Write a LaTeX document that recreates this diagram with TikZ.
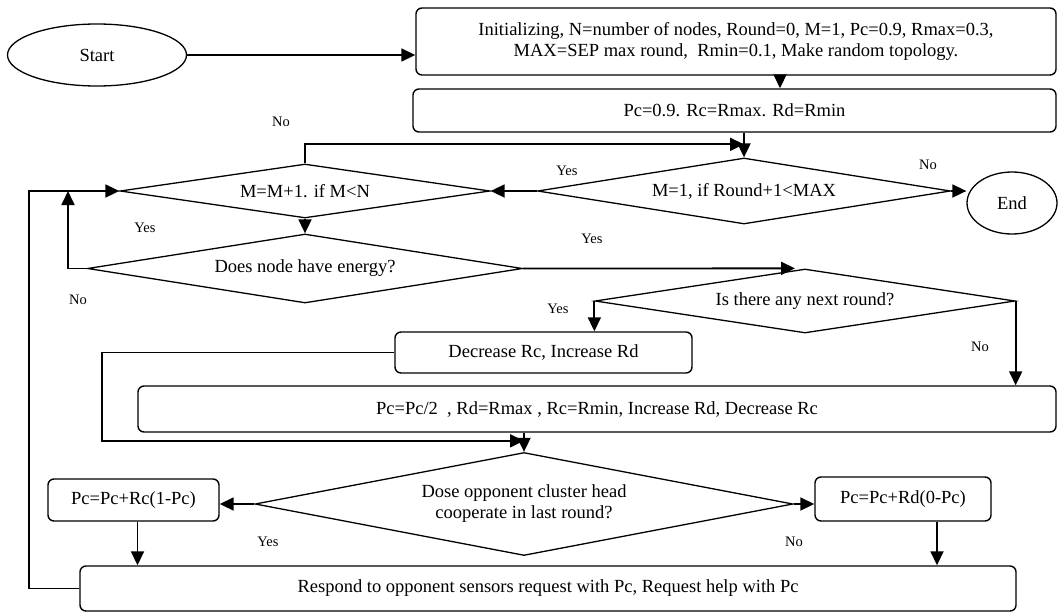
\documentclass[tikz,border=0pt]{standalone}
\usepackage{fontspec}
\setmainfont{Liberation Serif}
\usetikzlibrary{shapes.geometric,arrows.meta}

\begin{document}
\begin{tikzpicture}[x=1pt, y=-1pt,
    font=\fontsize{18.5}{21}\selectfont,
    proc/.style={draw, line width=1.4pt, rounded corners=6pt, inner sep=0pt, align=center},
    decision/.style={draw, line width=1.3pt, diamond, inner sep=0pt, align=center},
    term/.style={draw, line width=1.3pt, ellipse, inner sep=0pt},
    arr/.style={line width=1.8pt, -{Triangle[length=14pt,width=13pt]}},
    lbl/.style={font=\fontsize{14.5}{16}\selectfont}]
    \useasboundingbox (0,0) rectangle (1059,613);
    % terminals
    \node[term, minimum width=179pt, minimum height=62pt] (start) at (97,55) {Start};
    \node[term, minimum width=90pt, minimum height=62pt] (end) at (1012,203) {End};
    % process boxes
    \node[proc, minimum width=640pt, minimum height=67pt] (init-box) at (736,41.5)
    {Initializing, N=number of nodes, Round=0, M=1, Pc=0.9, Rmax=0.3,\\
     MAX=SEP max round,\ \ Rmin=0.1, Make random topology.};
    \node[proc, minimum width=643pt, minimum height=43pt] (pc-box) at (734.5,110.5)
    {Pc=0.9. Rc=Rmax. Rd=Rmin};
    \node[proc, minimum width=297pt, minimum height=41pt] (dec-box) at (543.5,352.5)
    {Decrease Rc, Increase Rd};
    \node[proc, minimum width=918pt, minimum height=46pt] (half-box) at (597,409)
    {Pc=Pc/2\ \ , Rd=Rmax , Rc=Rmin, Increase Rd, Decrease Rc};
    \node[proc, minimum width=171pt, minimum height=42pt] (rc-box) at (133.5,500)
    {Pc=Pc+Rc(1-Pc)};
    \node[proc, minimum width=176pt, minimum height=44pt] (rd-box) at (903,499)
    {Pc=Pc+Rd(0-Pc)};
    \node[proc, minimum width=936pt, minimum height=45pt] (resp-box) at (548,588.5)
    {Respond to opponent sensors request with Pc, Request help with Pc};
    % decisions
    \node[decision, aspect=7, minimum width=370pt, minimum height=54pt] (m-dec) at (305,191)
    {M=M+1. if M{<}N};
    \node[decision, aspect=6, minimum width=413pt, minimum height=66pt] (round-dec) at (744,191)
    {M=1, if Round+1{<}MAX};
    \node[decision, aspect=6.3, minimum width=435pt, minimum height=69pt] (energy-dec) at (305,268.5)
    {Does node have energy?};
    \node[decision, aspect=6.6, minimum width=420pt, minimum height=64pt] (next-dec) at (805,301)
    {Is there any next round?};
    \node[decision, aspect=5.2, minimum width=538pt, minimum height=103pt] (coop-dec) at (524,504)
    {Dose opponent cluster head\\cooperate in last round?};
    % junction points
    \coordinate (pc-in) at ([yshift=13pt]round-dec.north);
    \coordinate (m-in) at (68,191);
    \coordinate (coop-in) at ([yshift=11pt]coop-dec.north);
    % connectors
    \draw[arr] (start.east) -- (start.east -| init-box.west);
    \draw[arr] ([xshift=44pt]init-box.south) -- ([xshift=45.5pt]pc-box.north);
    \draw[arr] (pc-box.south -| round-dec.north) -- (round-dec.north);
    \draw[arr] (m-dec.north) |- (pc-in);
    \draw[arr] (round-dec.west) -- (m-dec.east);
    \draw[arr] (round-dec.east) -- (end.west |- round-dec.east);
    \draw[arr] (m-dec.south) -- (energy-dec.north);
    \draw[arr] (energy-dec.west) -| (m-in);
    \draw[arr] (energy-dec.east) -- ([xshift=-10pt]next-dec.north);
    \draw[arr] (next-dec.west) -- (next-dec.west |- dec-box.north);
    \draw[arr] (next-dec.east) -- (next-dec.east |- half-box.north);
    \draw[arr] (dec-box.west) -- (dec-box.west -| 102,0) |- (coop-in);
    \draw[arr] (half-box.south -| coop-dec.north) -- (coop-dec.north);
    \draw[arr] (coop-dec.west) -- (coop-dec.west -| rc-box.east);
    \draw[arr] (coop-dec.east) -- (coop-dec.east -| rd-box.west);
    \draw[arr] ([xshift=4pt]rc-box.south) -- ([xshift=4pt]rc-box.south |- resp-box.north);
    \draw[arr] ([xshift=34pt]rd-box.south) -- ([xshift=34pt]rd-box.south |- resp-box.north);
    \draw[arr] (resp-box.west) -- (resp-box.west -| 29,0) |- (m-dec.west);
    % yes / no labels
    \node[lbl] (no-m) at (281,122) {No};
    \node[lbl] (yes-round) at (567,171) {Yes};
    \node[lbl] (no-round) at (928,165) {No};
    \node[lbl] (yes-m) at (145,228) {Yes};
    \node[lbl] (no-energy) at (78,300) {No};
    \node[lbl] (yes-energy) at (592,239) {Yes};
    \node[lbl] (yes-next) at (558,309) {Yes};
    \node[lbl] (no-next) at (980,347) {No};
    \node[lbl] (yes-coop) at (268,542) {Yes};
    \node[lbl] (no-coop) at (794,542) {No};
\end{tikzpicture}
\end{document}
